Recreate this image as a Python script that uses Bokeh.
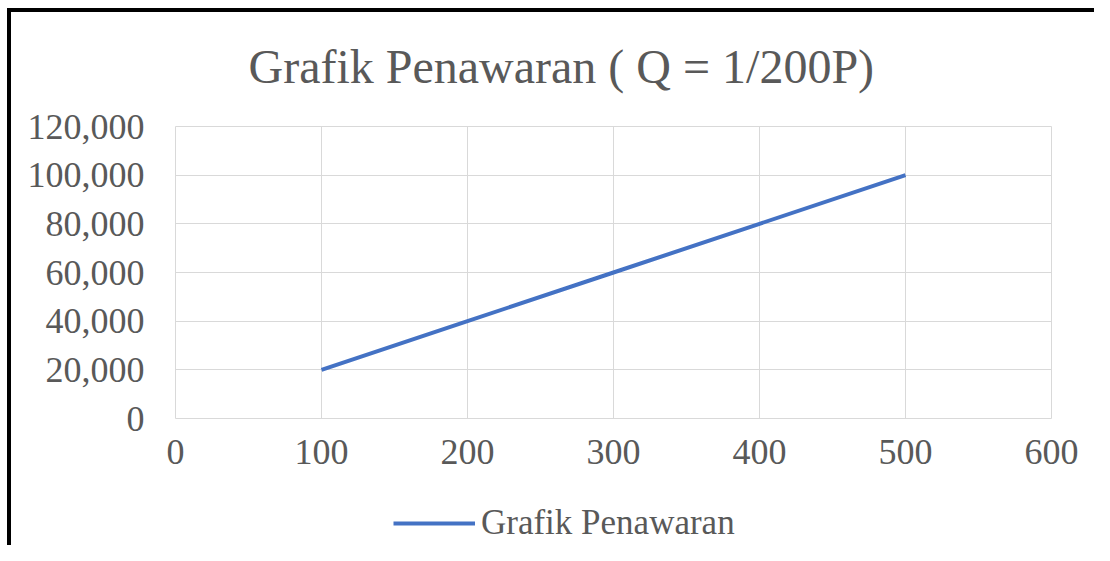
from bokeh.plotting import figure
from bokeh.layouts import column
from bokeh.models import (Range1d, FixedTicker, NumeralTickFormatter, Legend, LegendItem, Title)
from bokeh.embed import file_html
from bokeh.resources import INLINE

# ---- data ----
x_values = [100, 200, 300, 400, 500]
y_values = [20000, 40000, 60000, 80000, 100000]
series_name = "Grafik Penawaran"
title_text = "Grafik Penawaran ( Q = 1/200P)"
x_ticks = [0, 100, 200, 300, 400, 500, 600]
y_ticks = [0, 20000, 40000, 60000, 80000, 100000, 120000]

FONT = "Liberation Serif"
TXT = "#595959"
GRID = "#d9d9d9"
BLUE = "#4472C4"

W = 1094
p = figure(width=W, height=480, output_backend="svg", toolbar_location=None,
           x_range=Range1d(0, 600), y_range=Range1d(0, 120000),
           min_border_left=175, min_border_right=43, min_border_top=126, min_border_bottom=62)
p.border_fill_color = None
p.background_fill_color = "white"

p.title.visible = False
t = Title(text=title_text, text_font=FONT, text_font_size="48px", text_font_style="normal",
          text_color=TXT, align="left", offset=73, standoff=67)
p.add_layout(t, "above")

p.outline_line_color = GRID
p.outline_line_width = 1

for ax in (p.xaxis[0], p.yaxis[0]):
    ax.axis_line_color = None
    ax.major_tick_line_color = None
    ax.minor_tick_line_color = None
    ax.major_tick_out = 0
    ax.major_tick_in = 0
    ax.major_label_text_font = FONT
    ax.major_label_text_font_size = "36px"
    ax.major_label_text_color = TXT

p.xaxis.ticker = FixedTicker(ticks=x_ticks)
p.yaxis.ticker = FixedTicker(ticks=y_ticks)
p.yaxis.formatter = NumeralTickFormatter(format="0,0")
p.yaxis.major_label_standoff = 31
p.xaxis.major_label_standoff = 21

p.xgrid.grid_line_color = GRID
p.ygrid.grid_line_color = GRID
p.xgrid.ticker = FixedTicker(ticks=x_ticks)
p.ygrid.ticker = FixedTicker(ticks=y_ticks)

line_style = dict(line_color=BLUE, line_width=4)
r = p.line(x_values, y_values, **line_style)

# legend strip below the chart (its own small plot area, so the legend is not clipped)
p2 = figure(width=W, height=65, output_backend="svg", toolbar_location=None,
            x_range=Range1d(0, 1), y_range=Range1d(0, 1),
            min_border_left=0, min_border_right=0, min_border_top=0, min_border_bottom=0)
p2.axis.visible = False
p2.grid.visible = False
p2.outline_line_color = None
p2.border_fill_color = None
p2.background_fill_color = None
r2 = p2.line(x_values, y_values, **line_style)  # outside p2's ranges: only its legend shows

legend = Legend(items=[LegendItem(label=series_name, renderers=[r2])],
                location=(218, 1), orientation="horizontal",
                label_text_font=FONT, label_text_font_size="35px", label_text_color=TXT,
                glyph_width=82, glyph_height=42, label_height=42,
                label_standoff=6, padding=0, margin=0, spacing=0,
                border_line_color=None, background_fill_alpha=0)
p2.add_layout(legend, "center")

layout = column(p, p2, spacing=0)
layout.styles = {"background": "linear-gradient(#000,#000) 7px 8px / 4px calc(100% - 8px) no-repeat, "
                               "linear-gradient(#000,#000) 7px 8px / calc(100% - 7px) 4px no-repeat, #ffffff"}

open("out.html", "w").write(file_html(layout, INLINE))
